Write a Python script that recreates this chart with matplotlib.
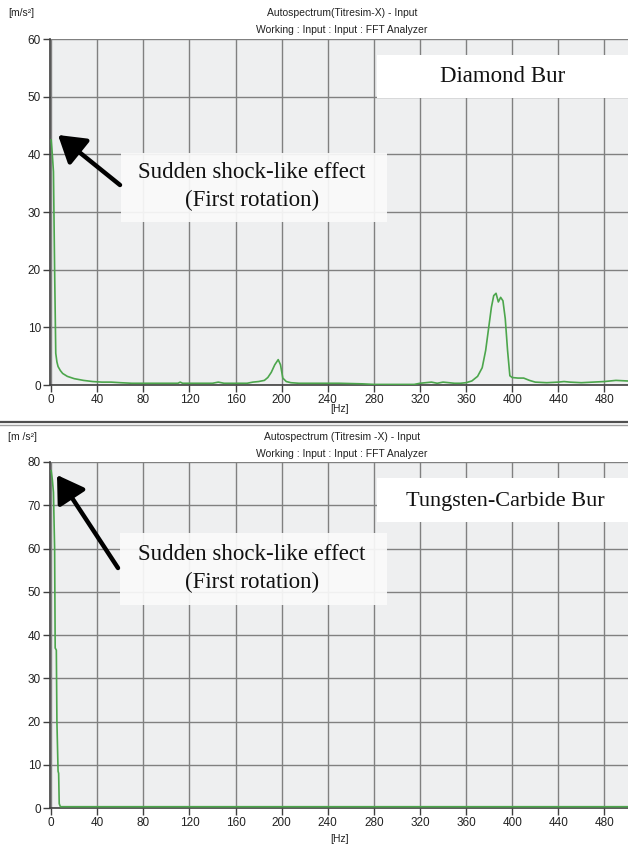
import matplotlib
matplotlib.use("Agg")
import matplotlib.pyplot as plt
from matplotlib.patches import Rectangle, FancyArrowPatch
from matplotlib.lines import Line2D

# Diamond bur spectrum (Hz, m/s^2)
diamond_freq = [0, 1, 2, 3, 4, 5, 6, 8, 10, 14, 20, 28, 36, 44, 52, 60, 70, 80, 90,
                100, 110, 112, 114, 120, 130, 140, 145, 150, 160, 170, 175, 180, 185,
                188, 191, 194, 197, 199, 201, 204, 208, 215, 230, 250, 270, 280, 300,
                315, 320, 330, 335, 340, 350, 355, 360, 365, 370, 374, 377, 380, 382,
                384, 386, 388, 390, 392, 394, 396, 398, 400, 405, 410, 415, 420, 430,
                440, 445, 450, 460, 470, 480, 490, 500]
diamond_amp = [42.5, 40, 37, 20, 5.5, 4.0, 3.2, 2.5, 2.0, 1.5, 1.1, 0.8, 0.6, 0.5, 0.5,
               0.4, 0.3, 0.3, 0.3, 0.3, 0.3, 0.5, 0.3, 0.3, 0.3, 0.3, 0.5, 0.3, 0.3,
               0.3, 0.5, 0.6, 0.8, 1.3, 2.2, 3.5, 4.4, 3.5, 1.2, 0.6, 0.4, 0.3, 0.3,
               0.3, 0.2, 0.1, 0.1, 0.1, 0.3, 0.5, 0.3, 0.5, 0.3, 0.3, 0.4, 0.7, 1.5,
               3.0, 6.0, 10.5, 13.5, 15.5, 15.9, 14.4, 15.2, 14.6, 11.5, 6.0, 1.6,
               1.3, 1.2, 1.2, 0.8, 0.5, 0.4, 0.5, 0.6, 0.5, 0.4, 0.5, 0.6, 0.8, 0.7]

# Tungsten-carbide bur spectrum
tc_freq = [0, 1, 2, 3, 3.5, 4.5, 5, 6, 6.5, 7, 8, 500]
tc_amp = [78, 76, 73, 60, 37, 36.5, 20, 8.5, 8, 1.0, 0.3, 0.3]

xticks = list(range(0, 481, 40))

W, H = 628, 847
fig = plt.figure(figsize=(W / 100, H / 100), dpi=100)
fig.patch.set_facecolor("white")


def fx(x):
    return x / W


def fy(y):
    return 1 - y / H


label_font = ["Liberation Sans Narrow", "Liberation Sans", "DejaVu Sans"]
wide_font = ["Liberation Sans", "DejaVu Sans"]
serif = ["Liberation Serif", "DejaVu Serif"]
txt_col = "#222222"


def make_panel(top_px, bottom_px, freq, amp, ymax, font):
    ax = fig.add_axes([fx(50), fy(bottom_px), fx(578), (bottom_px - top_px) / H])
    ax.set_facecolor("#eeeff0")
    ax.plot(freq, amp, color="#4ca64c", lw=1.2, zorder=3)
    ax.set_xlim(-1, 500.5)
    ax.set_ylim(0, ymax)
    ax.set_xticks(xticks)
    ax.set_yticks(range(0, ymax + 1, 10))
    ax.grid(True, color="#808080", lw=1.0)
    ax.set_axisbelow(True)
    for s in ["top", "right"]:
        ax.spines[s].set_visible(False)
    for s in ["left", "bottom"]:
        ax.spines[s].set_color("#404040")
        ax.spines[s].set_linewidth(1.2)
    ax.tick_params(direction="out", length=5, width=1, color="#404040",
                   labelsize=8.5, labelcolor=txt_col, pad=1.5)
    for lab in ax.get_xticklabels() + ax.get_yticklabels():
        lab.set_family(font)
    return ax


ax1 = make_panel(39, 385, diamond_freq, diamond_amp, 60, label_font)
ax2 = make_panel(462, 808, tc_freq, tc_amp, 80, wide_font)

# headers
for y0, t1, unit, font in [(13, "Autospectrum(Titresim-X) - Input", "[m/s²]", label_font),
                           (437, "Autospectrum (Titresim -X) - Input", "[m /s²]", wide_font)]:
    fig.text(fx(342), fy(y0), t1, ha="center", va="center", fontsize=7.5,
             color=txt_col, family=font)
    fig.text(fx(342), fy(y0 + 17), "Working : Input : Input : FFT Analyzer",
             ha="center", va="center", fontsize=7.5, color=txt_col, family=font)
    fig.text(fx(8), fy(y0), unit, ha="left", va="center", fontsize=7.5,
             color=txt_col, family=font)

fig.text(fx(340), fy(409), "[Hz]", ha="center", va="center", fontsize=7.5,
         color=txt_col, family=label_font)
fig.text(fx(340), fy(839), "[Hz]", ha="center", va="center", fontsize=7.5,
         color=txt_col, family=wide_font)

# separator between the two panels
fig.add_artist(Line2D([0, 1], [fy(422), fy(422)], color="#505050", lw=1.6))
fig.add_artist(Line2D([0, 1], [fy(425), fy(425)], color="#a0a0a0", lw=1.0))


def box(x0, y0, x1, y1, color, alpha=1.0):
    fig.add_artist(Rectangle((fx(x0), fy(y1)), fx(x1 - x0), (y1 - y0) / H,
                             transform=fig.transFigure, facecolor=color,
                             edgecolor="none", alpha=alpha, zorder=5))


def arrow(x0, y0, x1, y1):
    fig.add_artist(FancyArrowPatch((fx(x0), fy(y0)), (fx(x1), fy(y1)),
                                   transform=fig.transFigure,
                                   arrowstyle="-|>,head_length=0.8,head_width=0.5",
                                   mutation_scale=20, lw=3.2, color="black",
                                   shrinkA=0, shrinkB=0, zorder=6))


# top annotations
box(377, 55, 628, 98, "white")
fig.text(fx(503), fy(77), "Diamond Bur", ha="center", va="center", fontsize=16.5,
         family=serif, color="#111111", zorder=7)
box(121, 153, 387, 222, "#fafafa", 0.92)
fig.text(fx(252), fy(173), "Sudden shock-like effect", ha="center", va="center",
         fontsize=16.5, family=serif, color="#111111", zorder=7)
fig.text(fx(252), fy(200), "(First rotation)", ha="center", va="center",
         fontsize=16.5, family=serif, color="#111111", zorder=7)
arrow(120, 185, 58, 135)

# bottom annotations
box(377, 478, 628, 522, "white")
fig.text(fx(505), fy(501), "Tungsten-Carbide Bur", ha="center", va="center",
         fontsize=16, family=serif, color="#111111", zorder=7)
box(120, 533, 387, 605, "#fafafa", 0.92)
fig.text(fx(252), fy(555), "Sudden shock-like effect", ha="center", va="center",
         fontsize=16.5, family=serif, color="#111111", zorder=7)
fig.text(fx(252), fy(582), "(First rotation)", ha="center", va="center",
         fontsize=16.5, family=serif, color="#111111", zorder=7)
arrow(118, 568, 57, 475)

fig.savefig("out.png", dpi=100)
